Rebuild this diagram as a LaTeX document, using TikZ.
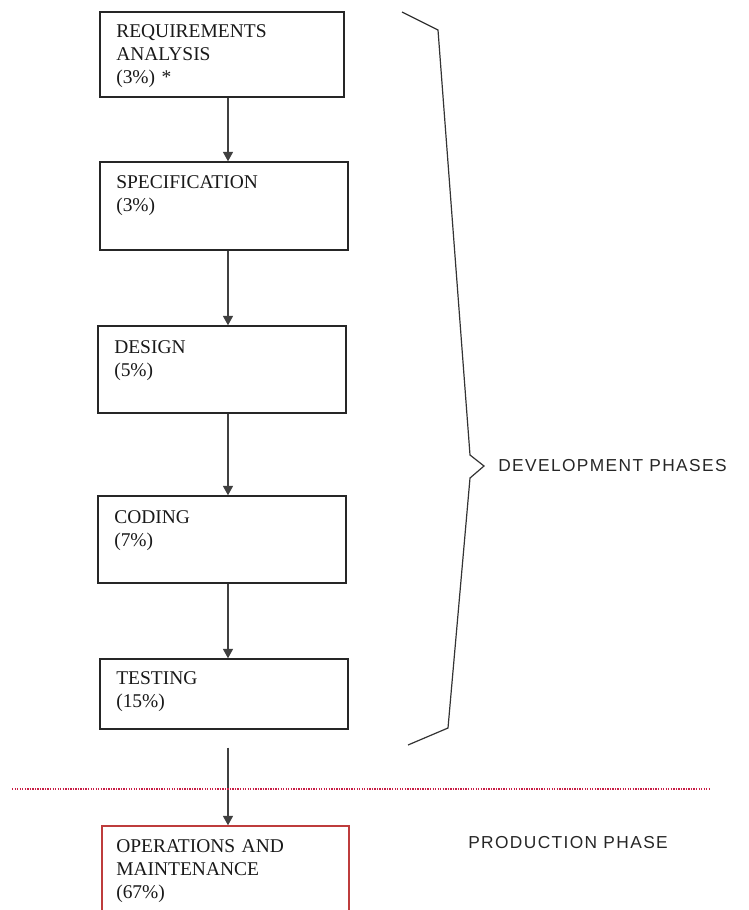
\documentclass[tikz,border=0pt]{standalone}
\usepackage{fontspec}
\setmainfont{Liberation Serif}
\newfontfamily\labelsans[LetterSpace=8]{Liberation Sans}
\usetikzlibrary{arrows.meta,calc,fit}
\definecolor{boxred}{RGB}{190,60,60}
\definecolor{sepred}{RGB}{200,30,70}
\begin{document}
\begin{tikzpicture}[x=0.75pt,y=-0.75pt,
  stage/.style={draw=black!85, line width=1.1pt, rectangle, inner sep=0pt},
  prodstage/.style={stage, draw=boxred},
  stagetext/.style={anchor=base west, inner sep=0pt, text width=220pt, align=left,
    font=\fontsize{14.6}{17.5}\selectfont, text=black!90},
  flow/.style={draw=black!75, line width=0.8pt, -{Triangle[length=7pt,width=7.5pt]}},
  sepline/.style={draw=sepred, line width=1pt, dash pattern=on 1pt off 0.9pt},
  brace/.style={draw=black!80, line width=0.9pt, line join=miter},
  phasetext/.style={font=\labelsans\fontsize{13}{15}\selectfont, anchor=west, inner sep=0pt, text=black!85}]
\useasboundingbox (0,0) rectangle (749,910);
\clip (0,0) rectangle (749,910);

% phase boxes
\node[stage, fit={(100,12) (344,97)}] (req) {};
\node[stage, fit={(100,162) (348,250)}] (spec) {};
\node[stage, fit={(98,326) (346,413)}] (design) {};
\node[stage, fit={(98,496) (346,583)}] (coding) {};
\node[stage, fit={(100,659) (348,729)}] (testing) {};
\node[prodstage, fit={(102,826) (349,940)}] (ops) {};

% box texts
\node[stagetext] (req-t) at (116,37) {REQUIREMENTS\\ANALYSIS\\(3\%) *};
\node[stagetext] (spec-t) at (116,188) {SPECIFICATION\\(3\%)};
\node[stagetext] (design-t) at (114,353) {DESIGN\\(5\%)};
\node[stagetext] (coding-t) at (114,523) {CODING\\(7\%)};
\node[stagetext] (testing-t) at (116,684) {TESTING\\(15\%)};
\node[stagetext] (ops-t) at (116,852) {OPERATIONS AND\\MAINTENANCE\\(67\%)};

% flow arrows
\coordinate (axis) at (228,0);
\draw[flow] (req.south -| axis) -- (spec.north -| axis);
\draw[flow] (spec.south -| axis) -- (design.north -| axis);
\draw[flow] (design.south -| axis) -- (coding.north -| axis);
\draw[flow] (coding.south -| axis) -- (testing.north -| axis);
\draw[flow] ($(testing.south -| axis)+(0,18)$) -- (ops.north -| axis);

% separator between development and production
\coordinate (sep-a) at (12,789);
\coordinate (sep-b) at (710,789);
\draw[sepline] (sep-a) -- (sep-b);

% brace grouping the development phases
\draw[brace] (402,12) -- (438,30) -- (470,455) -- (484,466) -- (470,478) -- (448,728) -- (408,745);

% phase labels
\node[phasetext] (dev) at (498,466) {DEVELOPMENT PHASES};
\node[phasetext] (prod) at (468,843) {PRODUCTION PHASE};
\end{tikzpicture}
\end{document}
